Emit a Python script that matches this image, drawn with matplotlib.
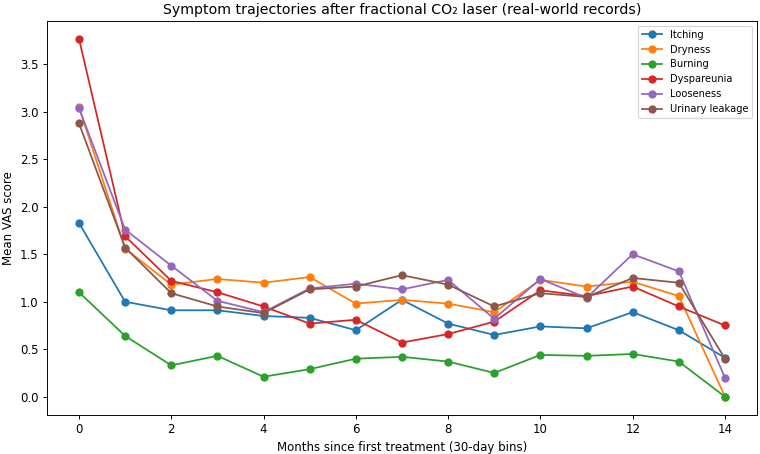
import matplotlib
matplotlib.use("Agg")
import matplotlib.pyplot as plt
import numpy as np

months = np.arange(15)
itching = [1.83, 1.00, 0.91, 0.91, 0.85, 0.83, 0.70, 1.02, 0.77, 0.65, 0.74, 0.72, 0.89, 0.70, 0.41]
dryness = [3.05, 1.56, 1.18, 1.24, 1.20, 1.26, 0.98, 1.02, 0.98, 0.89, 1.23, 1.16, 1.21, 1.06, 0.0]
burning = [1.10, 0.64, 0.33, 0.43, 0.21, 0.29, 0.40, 0.42, 0.37, 0.25, 0.44, 0.43, 0.45, 0.37, 0.0]
dyspareunia = [3.77, 1.69, 1.22, 1.10, 0.95, 0.77, 0.81, 0.57, 0.66, 0.79, 1.12, 1.06, 1.16, 0.95, 0.75]
looseness = [3.04, 1.76, 1.38, 1.01, 0.89, 1.14, 1.19, 1.13, 1.23, 0.82, 1.24, 1.04, 1.50, 1.32, 0.20]
urinary = [2.88, 1.57, 1.09, 0.95, 0.88, 1.13, 1.16, 1.28, 1.18, 0.95, 1.09, 1.05, 1.25, 1.20, 0.40]

series = [("Itching", itching), ("Dryness", dryness), ("Burning", burning),
          ("Dyspareunia", dyspareunia), ("Looseness", looseness), ("Urinary leakage", urinary)]

# drawn at 85 dpi so text and markers come out at the reference's scale
fig, ax = plt.subplots(figsize=(760 / 85, 454 / 85), dpi=85)
for name, vals in series:
    ax.plot(months, vals, marker="o", label=name)

ax.set_xlabel("Months since first treatment (30-day bins)")
ax.set_ylabel("Mean VAS score")
ax.set_title("Symptom trajectories after fractional CO\u2082 laser (real-world records)")
ax.legend(fontsize="small")
fig.subplots_adjust(left=0.0614, right=0.9964, top=0.9542, bottom=0.0868)
fig.savefig("out.png", dpi=85)
